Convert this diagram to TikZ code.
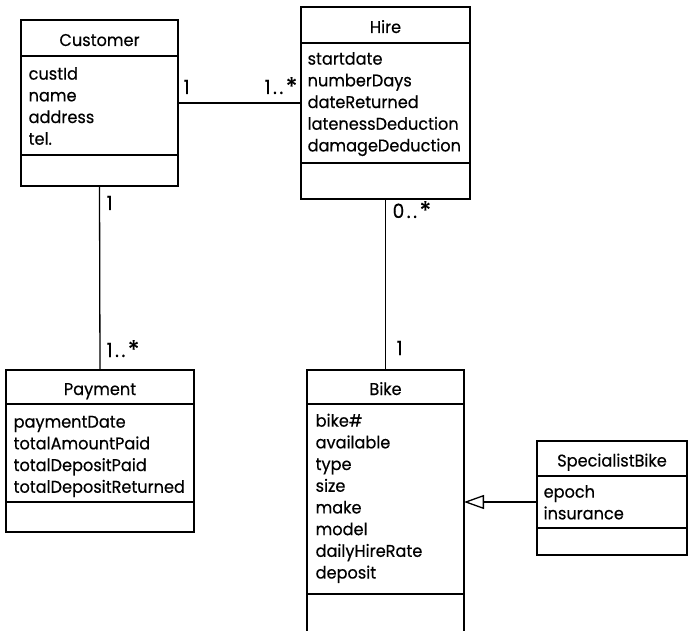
\documentclass[tikz,border=0pt]{standalone}
\usepackage{fontspec}
\setmainfont{Poppins}[FakeStretch=0.95,FakeBold=0.4]
\usetikzlibrary{arrows.meta}
\newcommand{\mstar}{\raisebox{-1.5pt}{\fontsize{25}{25}\selectfont *}}
\begin{document}
\begin{tikzpicture}[x=1pt,y=-1pt, line width=1.3pt,
  comp/.style={draw, rectangle, inner sep=0pt, outer sep=0pt, anchor=north west},
  ctitle/.style={comp, text height=16pt, text depth=0pt, font=\fontsize{17}{21}\selectfont},
  attrs/.style={inner sep=0pt, anchor=north west, align=left, font=\fontsize{17}{21.7}\selectfont},
  mult/.style={inner sep=0pt, anchor=base west, font=\fontsize{19.5}{20}\selectfont},
]
\clip (0,0) rectangle (688,631);
% Customer
\node[ctitle, minimum width=157pt, minimum height=36pt] (custH) at (21,20) {Customer};
\node[comp, minimum width=157pt, minimum height=99pt] (custA) at (custH.south west) {};
\node[comp, minimum width=157pt, minimum height=31pt] (custO) at (custA.south west) {};
\node[attrs] (custT) at (28,65) {\rule{0pt}{14pt}custId\\name\\address\\tel.};
% Hire
\node[ctitle, minimum width=169pt, minimum height=36pt] (hireH) at (301,7) {Hire};
\node[comp, minimum width=169pt, minimum height=120pt] (hireA) at (hireH.south west) {};
\node[comp, minimum width=169pt, minimum height=36pt] (hireO) at (hireA.south west) {};
\node[attrs] (hireT) at (307,50) {\rule{0pt}{14pt}startdate\\numberDays\\dateReturned\\latenessDeduction\\damageDeduction};
% Payment
\node[ctitle, minimum width=188pt, minimum height=34pt] (payH) at (6,370) {Payment};
\node[comp, minimum width=188pt, minimum height=98pt] (payA) at (payH.south west) {};
\node[comp, minimum width=188pt, minimum height=30pt] (payO) at (payA.south west) {};
\node[attrs] (payT) at (13,413) {\rule{0pt}{14pt}paymentDate\\totalAmountPaid\\totalDepositPaid\\totalDepositReturned};
% Bike
\node[ctitle, minimum width=157pt, minimum height=34pt] (bikeH) at (307,370) {Bike};
\node[comp, minimum width=157pt, minimum height=190pt] (bikeA) at (bikeH.south west) {};
\node[comp, minimum width=157pt, minimum height=50pt] (bikeO) at (bikeA.south west) {};
\node[attrs] (bikeT) at (315,412) {\rule{0pt}{14pt}bike\#\\available\\type\\size\\make\\model\\dailyHireRate\\deposit};
% SpecialistBike
\node[ctitle, minimum width=150pt, minimum height=35pt] (specH) at (537,441) {SpecialistBike};
\node[comp, minimum width=150pt, minimum height=52pt] (specA) at (specH.south west) {};
\node[comp, minimum width=150pt, minimum height=27pt] (specO) at (specA.south west) {};
\node[attrs] (specT) at (543,483) {\rule{0pt}{14pt}epoch\\insurance};
% connectors
\draw (custA.east |- hireA.west) -- (hireA.west);
\draw (custO.south) -- (payH.north);
\draw (hireO.south) -- (bikeH.north);
\draw[-{Triangle[open,length=20pt,width=14pt]}] (specA.west) -- (specA.west -| bikeA.east);
% multiplicities
\node[mult] (m1) at (183,94) {1};
\node[mult, anchor=base east] (m2) at (298,94) {1\kern2.5pt.\kern2.5pt.\kern2.5pt\mstar};
\node[mult] (m3) at (106,210) {1};
\node[mult] (m4) at (106,357) {1\kern2.5pt.\kern2.5pt.\kern2.5pt\mstar};
\node[mult] (m5) at (392,218) {0\kern2.5pt.\kern2.5pt.\kern2.5pt\mstar};
\node[mult] (m6) at (396,355) {1};
\end{tikzpicture}
\end{document}
